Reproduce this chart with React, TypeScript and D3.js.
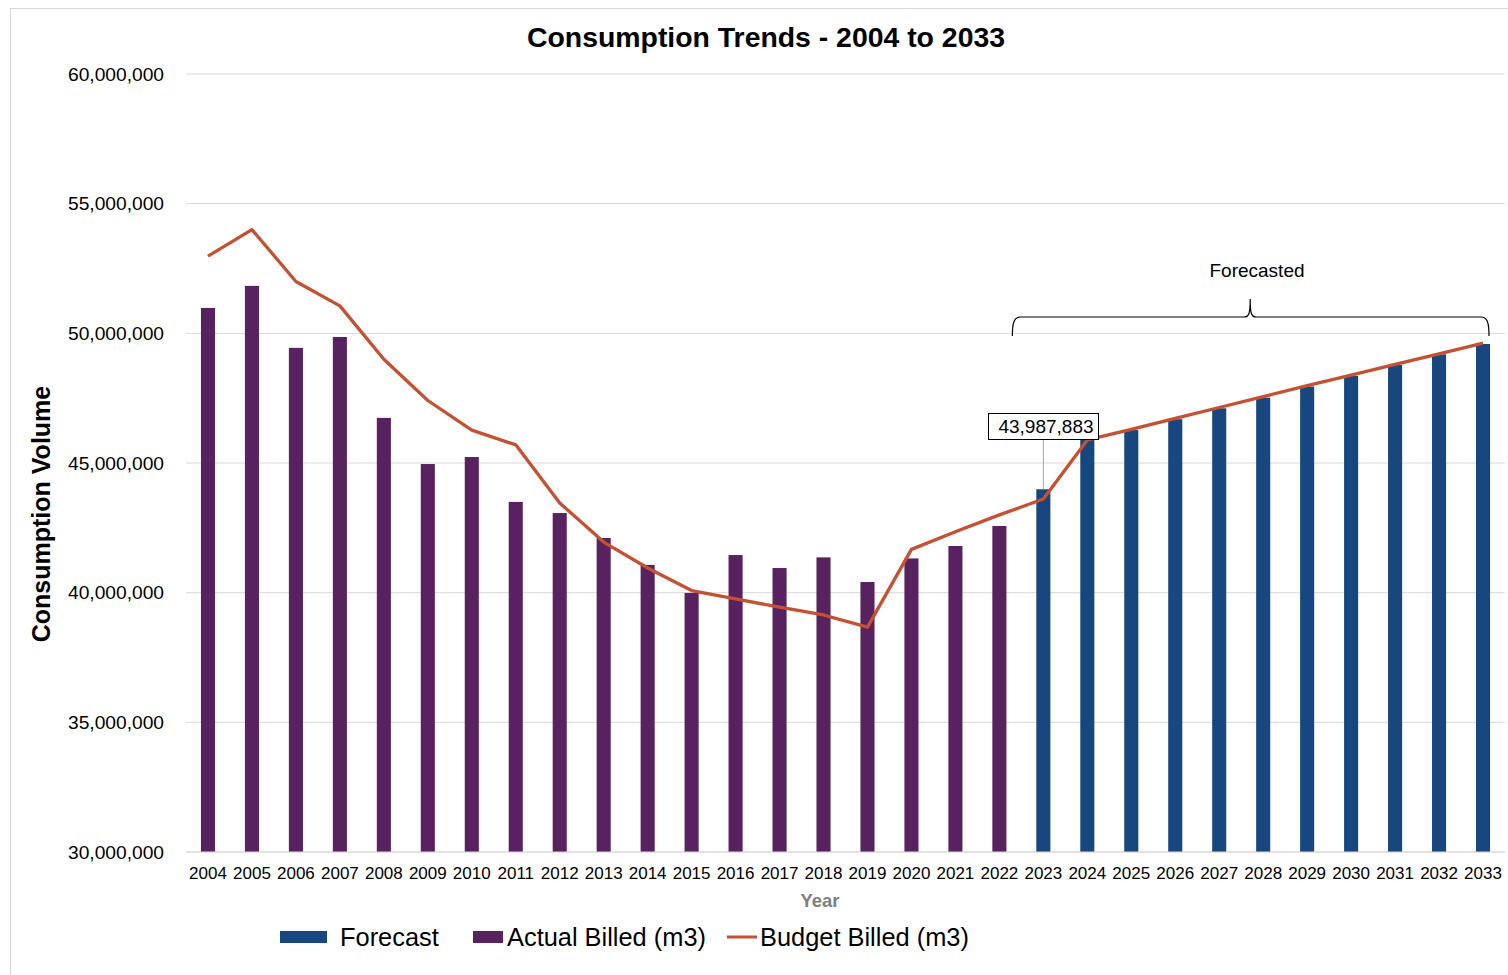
import React from "react";
import * as d3 from "d3";

const years = d3.range(2004, 2034).map(String);
const actualYears = years.slice(0, 19);
const forecastYears = years.slice(19);
const actualBilled = [
  50.98, 51.83, 49.44, 49.86, 46.74, 44.96, 45.23, 43.5, 43.07, 42.11,
  41.07, 39.99, 41.45, 40.95, 41.36, 40.41, 41.32, 41.8, 42.57,
].map((v) => v * 1e6);
const forecast = [
  43987883, 45.93e6, 46.27e6, 46.69e6, 47.11e6, 47.52e6, 47.95e6, 48.36e6, 48.78e6, 49.19e6, 49.59e6,
];
const budgetBilled = [
  52.98, 54.0, 52.0, 51.06, 49.0, 47.41, 46.27, 45.7, 43.46, 41.95,
  40.95, 40.08, 39.76, 39.44, 39.14, 38.67, 41.67, 42.35, 43.0, 43.61,
  45.89, 46.3, 46.72, 47.14, 47.56, 47.98, 48.39, 48.8, 49.21, 49.62,
].map((v) => v * 1e6);
const yTicks = [30e6, 35e6, 40e6, 45e6, 50e6, 55e6, 60e6];

const W = 1508;
const H = 975;
const left = 186;
const right = 1505;
const top = 74;
const bottom = 852;
const PURPLE = "#58215f";
const BLUE = "#17477e";
const ORANGE = "#c65132";
const FONT = "'Liberation Sans', Arial, sans-serif";

export default function App() {
  const x = d3.scaleBand<string>().domain(years).range([left, right]).paddingInner(0.68).paddingOuter(0.34);
  const y = d3.scaleLinear().domain([30e6, 60e6]).range([bottom, top]);
  const fmt = d3.format(",");
  const cx = (yr: string) => (x(yr) as number) + x.bandwidth() / 2;
  const line = d3
    .line<number>()
    .x((_, i) => cx(years[i]))
    .y((d) => y(d));

  const annYear = "2023";
  const annX = cx(annYear);
  const annVal = forecast[0];

  const bL = cx("2023") - 31;
  const bR = cx("2033") + 6;
  const bM = (bL + bR) / 2 - 0.5;
  const bY = 317;
  const brace = `M${bL},336 C${bL},322 ${bL + 2},${bY} ${bL + 8},${bY} L${bM - 6},${bY} C${bM - 1},${bY} ${bM},${bY - 4} ${bM},299 C${bM},${bY - 4} ${bM + 1},${bY} ${bM + 6},${bY} L${bR - 8},${bY} C${bR - 2},${bY} ${bR},322 ${bR},336`;

  return (
    <svg width={W} height={H} style={{ position: "absolute", left: 0, top: 0, background: "#fff" }} fontFamily={FONT}>
      <rect x={10.5} y={8.5} width={W + 20} height={H + 20} fill="#fff" stroke="#d9d9d9" />
      <text x={766} y={47} textAnchor="middle" fontSize={28.4} fontWeight="bold" fill="#000">
        Consumption Trends - 2004 to 2033
      </text>
      {yTicks.map((t) => (
        <g key={t}>
          <line x1={left} x2={right} y1={y(t)} y2={y(t)} stroke="#d9d9d9" strokeWidth={1} />
          <text x={164} y={y(t)} dy="0.35em" textAnchor="end" fontSize={19.2} fill="#000">
            {fmt(t)}
          </text>
        </g>
      ))}
      {actualYears.map((yr, i) => (
        <rect key={yr} x={x(yr)} y={y(actualBilled[i])} width={x.bandwidth()} height={bottom - y(actualBilled[i])} fill={PURPLE} />
      ))}
      {forecastYears.map((yr, i) => (
        <rect key={yr} x={x(yr)} y={y(forecast[i])} width={x.bandwidth()} height={bottom - y(forecast[i])} fill={BLUE} />
      ))}
      <line x1={left} x2={right} y1={bottom} y2={bottom} stroke="#d9d9d9" />
      <path d={line(budgetBilled) || ""} fill="none" stroke={ORANGE} strokeWidth={3.3} strokeLinejoin="round" />
      {years.map((yr) => (
        <text key={yr} x={cx(yr)} y={879} textAnchor="middle" fontSize={17} fill="#000">
          {yr}
        </text>
      ))}
      <text x={820} y={907} textAnchor="middle" fontSize={18.5} fontWeight="bold" fill="#7f7f7f">
        Year
      </text>
      <text transform={`translate(50,514) rotate(-90)`} textAnchor="middle" fontSize={25} fontWeight="bold" fill="#000">
        Consumption Volume
      </text>
      <line x1={annX} x2={annX} y1={439} y2={y(annVal)} stroke="#a6a6a6" strokeWidth={1} />
      <rect x={988.5} y={413.5} width={110} height={26} fill="#fff" stroke="#000" strokeWidth={1} />
      <text x={1046} y={433} textAnchor="middle" fontSize={19} fill="#000">
        {fmt(annVal)}
      </text>
      <path d={brace} fill="none" stroke="#000" strokeWidth={1.2} />
      <text x={1257} y={277} textAnchor="middle" fontSize={19} fill="#000">
        Forecasted
      </text>
      <rect x={280} y={931} width={47} height={12} fill={BLUE} />
      <text x={340} y={946} fontSize={25.4} fill="#000">Forecast</text>
      <rect x={473} y={931} width={30} height={12} fill={PURPLE} />
      <text x={507} y={946} fontSize={25.4} fill="#000">Actual Billed (m3)</text>
      <line x1={727} x2={757} y1={937} y2={937} stroke={ORANGE} strokeWidth={3} />
      <text x={760} y={946} fontSize={25.4} fill="#000">Budget Billed (m3)</text>
    </svg>
  );
}
